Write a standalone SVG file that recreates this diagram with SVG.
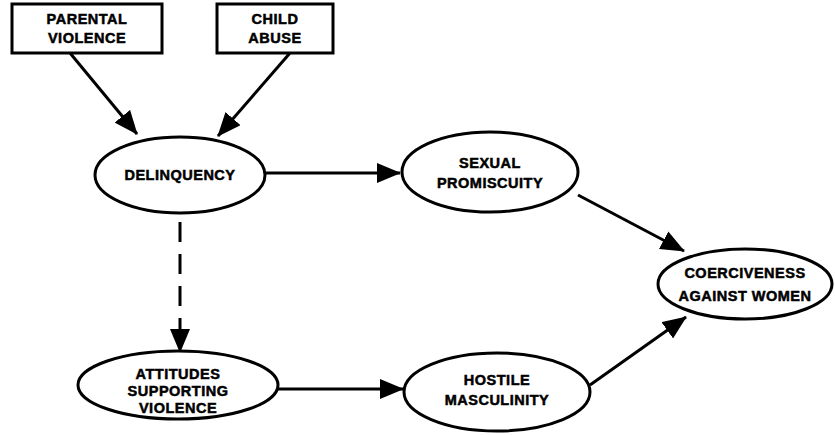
<svg xmlns="http://www.w3.org/2000/svg" width="835" height="435" viewBox="0 0 835 435">
<defs>
<marker id="ah" viewBox="0 0 24 20" refX="23" refY="10" markerWidth="24" markerHeight="20" markerUnits="userSpaceOnUse" orient="auto">
<path d="M0,0 L24,10 L0,20 Z" fill="#000"/>
</marker>
</defs>
<style>
.n{fill:#fff;stroke:#000;stroke-width:3}
.t{font-family:"Liberation Sans",Arial,sans-serif;font-weight:bold;font-size:14.5px;letter-spacing:0.5px;text-anchor:middle;fill:#000;stroke:#000;stroke-width:0.5}
.c{stroke:#000;stroke-width:3;fill:none;marker-end:url(#ah)}
.d{stroke-dasharray:20 12}
</style>
<rect width="835" height="435" fill="#fff"/>
<g id="connectors">
<line class="c" x1="70" y1="53" x2="137" y2="134"/>
<line class="c" x1="290" y1="53" x2="218" y2="136"/>
<line class="c" x1="265" y1="173" x2="400" y2="173"/>
<line class="c d" x1="180" y1="222" x2="180" y2="352"/>
<line class="c" x1="278" y1="389" x2="403" y2="389"/>
<line class="c" x1="578" y1="195" x2="684" y2="251"/>
<line class="c" x1="590" y1="385" x2="686" y2="317"/>
</g>
<g id="parental-violence">
<rect class="n" x="12" y="4" width="150" height="49"/>
<text class="t" x="87" y="24">PARENTAL</text>
<text class="t" x="87" y="43">VIOLENCE</text>
</g>
<g id="child-abuse">
<rect class="n" x="217" y="4" width="116" height="49"/>
<text class="t" x="275" y="24">CHILD</text>
<text class="t" x="275" y="43">ABUSE</text>
</g>
<g id="delinquency">
<ellipse class="n" cx="180" cy="175" rx="85" ry="38"/>
<text class="t" x="180" y="180">DELINQUENCY</text>
</g>
<g id="sexual-promiscuity">
<ellipse class="n" cx="490" cy="172" rx="88" ry="40"/>
<text class="t" x="490" y="168">SEXUAL</text>
<text class="t" x="490" y="188">PROMISCUITY</text>
</g>
<g id="coerciveness">
<ellipse class="n" cx="745" cy="284" rx="87" ry="35"/>
<text class="t" x="745" y="278">COERCIVENESS</text>
<text class="t" x="745" y="301">AGAINST WOMEN</text>
</g>
<g id="attitudes">
<ellipse class="n" cx="178" cy="385" rx="100" ry="34"/>
<text class="t" x="178" y="379">ATTITUDES</text>
<text class="t" x="178" y="396">SUPPORTING</text>
<text class="t" x="178" y="413">VIOLENCE</text>
</g>
<g id="hostile-masculinity">
<ellipse class="n" cx="497" cy="392" rx="93" ry="39"/>
<text class="t" x="497" y="385">HOSTILE</text>
<text class="t" x="497" y="405">MASCULINITY</text>
</g>
</svg>
